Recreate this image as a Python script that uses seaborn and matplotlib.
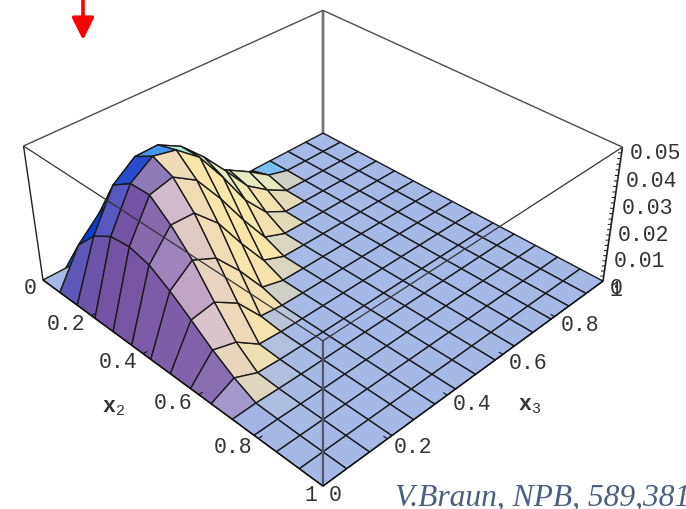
import numpy as np
import matplotlib
matplotlib.use('Agg')
import matplotlib.pyplot as plt
from mpl_toolkits.mplot3d.art3d import Line3DCollection
import seaborn as sns

# grid of the surface, 15 points each way
x2_grid = [0, 1/14, 2/14, 3/14, 4/14, 5/14, 6/14, 7/14, 8/14, 9/14, 10/14, 11/14, 12/14, 13/14, 1]
x3_grid = [0, 1/14, 2/14, 3/14, 4/14, 5/14, 6/14, 7/14, 8/14, 9/14, 10/14, 11/14, 12/14, 13/14, 1]

# heights, one row per x2 value, only the non zero start of each row
z_rows = [
    [],
    [0, .0138, .0215, .0260, .0280, .0260, .0220, .0175, .0126, .0078, .0023, .0001],
    [0, .0218, .0362, .0423, .0425, .0380, .0300, .0205, .0105, .0046, .0001],
    [0, .0262, .0410, .0465, .0447, .0380, .0265, .0135, .0043, .0001],
    [0, .0271, .0412, .0433, .0380, .0270, .0145, .0032, .0001],
    [0, .0252, .0350, .0348, .0267, .0145, .0033, .0001],
    [0, .0206, .0270, .0230, .0135, .0023, .0001],
    [0, .0150, .0165, .0111, .0010, .0001],
    [0, .0091, .0067, .0006, .0001],
    [0, .0041, .0005, .0001],
    [0, .0003, .0001],
    [0, .0001],
    [],
    [],
    [],
]

x2_ticks = [0, 0.2, 0.4, 0.6, 0.8, 1]
x3_ticks = [0, 0.2, 0.4, 0.6, 0.8, 1]
z_ticks = [0.01, 0.02, 0.03, 0.04, 0.05]
z_top = 0.05

sns.set_theme(style='white')
plt.rcParams['font.family'] = ['Liberation Mono', 'DejaVu Sans']
plt.rcParams['mathtext.fontset'] = 'custom'
plt.rcParams['mathtext.tt'] = 'Liberation Mono:bold'
plt.rcParams['mathtext.rm'] = 'Liberation Mono'

# camera of the box, fitted to its eight corners in the picture (x2, x3, z -> pixels)
cam = np.array([
    [226.9, 333.1, -21.0 / z_top, 43.0],
    [126.2, -125.1, -143.5 / z_top, 280.0],
    [-1.0, 1.0, -0.7 / z_top, 2.0],
    [-0.1643, 0.1643, -0.065 / z_top, 1.0],
])


def project(x2, x3, z=0):
    p = cam @ np.array([x2, x3, z, 1.0])
    return p[0] / p[3], p[1] / p[3]


def face_colors(Z):
    # colour from the direction and steepness of each cell
    steep = sns.blend_palette(['#d9c2cc', '#e8d2c0', '#f9e6a8', '#e8f2c0', '#bff3d8', '#a0f0e8',
                               '#55c8f5', '#2a9cf5', '#1a6cf0', '#0c48dc', '#0a3dd0', '#4f5ac8',
                               '#7552a3', '#8a6cb0', '#a98fc0', '#c4a9c4', '#d9c2cc'],
                              n_colors=256, as_cmap=True)
    floor = np.array([0.65, 0.725, 0.90])
    n = Z.shape[0] - 1
    colors = np.zeros((n, n, 4))
    for i in range(n):
        for j in range(n):
            gu = (Z[i + 1, j] + Z[i + 1, j + 1] - Z[i, j] - Z[i, j + 1]) / 2 * n / z_top * 0.5
            gv = (Z[i, j + 1] + Z[i + 1, j + 1] - Z[i, j] - Z[i + 1, j]) / 2 * n / z_top * 0.5
            s = np.hypot(gu, gv)
            phi = np.arctan2(-gv, -gu) % (2 * np.pi) / (2 * np.pi)
            mix = 1 - np.exp(-3 * s)
            colors[i, j, :3] = floor + mix * (np.array(steep(phi)[:3]) - floor)
            colors[i, j, 3] = 1
    # the corner cell stays close to the floor colour
    colors[0, 0, :3] = floor
    return colors


def edges(ax, segments, color, lw, zorder):
    lines = Line3DCollection(segments, colors=color, linewidths=lw, zorder=zorder)
    ax.add_collection3d(lines)


def main():
    Z = np.zeros((len(x2_grid), len(x3_grid)))
    for i, row in enumerate(z_rows):
        Z[i, :len(row)] = row
    X, Y = np.meshgrid(x2_grid, x3_grid, indexing='ij')

    fig = plt.figure(figsize=(6.86, 5.09), dpi=100)
    ax = fig.add_axes([0, 0, 1, 1], projection='3d')
    ax.set_axis_off()
    ax.patch.set_alpha(0)
    ax.computed_zorder = False
    ax.get_proj = lambda: cam
    ax.apply_aspect = lambda position=None: None
    ax.viewLim.intervalx = (0, 686)
    ax.viewLim.intervaly = (509, 0)

    # box edges behind the surface
    edge = '#4d4d4d'
    edges(ax, [[(0, 1, 0), (0, 1, z_top)]], '#777777', 2, 1)
    edges(ax, [[(0, 0, 0), (0, 0, z_top)]], '#222222', 1, 1)
    edges(ax, [[(1, 1, 0), (1, 1, z_top)]], '#222222', 1.2, 1)
    edges(ax, [[(0, 0, z_top), (0, 1, z_top)], [(0, 1, z_top), (1, 1, z_top)]], edge, 1, 1)

    ax.plot_surface(X, Y, Z, facecolors=face_colors(Z), rstride=1, cstride=1, shade=False,
                    edgecolor='#1a1a1a', linewidth=1.0, antialiased=True, zorder=2)

    # box edges in front of the surface
    edges(ax, [[(1, 0, 0), (1, 0, z_top)]], '#555566', 1.6, 3)
    edges(ax, [[(1, 0, z_top), (1, 1, z_top)], [(0, 0, z_top), (1, 0, z_top)]], '#333333', 0.9, 3)
    edges(ax, [[(0, 0, 0), (1, 0, 0)], [(1, 0, 0), (1, 1, 0)]], '#111111', 1, 3)

    # tick marks
    edges(ax, [[(t, 0, 0), (t, 0.012, 0)] for t in x2_ticks[1:-1]], '#111111', 0.8, 3)
    edges(ax, [[(1, t, 0), (0.988, t, 0)] for t in x3_ticks[1:-1]], '#111111', 0.8, 3)
    edges(ax, [[(1, 1, t), (0.994, 0.994, t)] for t in np.arange(0.002, z_top, 0.002)], '#111111', 0.7, 3)

    ov = fig.add_axes([0, 0, 1, 1], facecolor='none')
    ov.set_xlim(0, 686)
    ov.set_ylim(509, 0)
    ov.axis('off')

    fs = 15.5
    ink = '#333333'
    for t in x2_ticks:
        px, py = project(t, 0)
        ov.text(px - 6, py + 9, f'{t:g}', ha='right', va='center', fontsize=fs, color=ink)
    for t in x3_ticks:
        px, py = project(1, t)
        ov.text(px + 6, py + 9, f'{t:g}', ha='left', va='center', fontsize=fs, color=ink)
    for t in z_ticks:
        px, py = project(1, 1, t)
        ov.text(px + 7, py + 6, f'{t:g}', ha='left', va='center', fontsize=fs, color=ink)
    px, py = project(1, 1)
    ov.text(px + 7, py + 7, '0', ha='left', va='center', fontsize=fs, color=ink)

    ov.text(113, 407, r'$\mathtt{x}_{\mathrm{2}}$', ha='center', va='center', fontsize=fs, color=ink)
    ov.text(530, 405, r'$\mathtt{x}_{\mathrm{3}}$', ha='center', va='center', fontsize=fs, color=ink)

    ov.text(395, 506, 'V.Braun, NPB, 589,381', family='Liberation Serif', style='italic',
            fontsize=22.7, color='#4a5f7e', ha='left', va='baseline', clip_on=False)

    ov.annotate('', xy=(83, 40), xytext=(83, -3),
                arrowprops=dict(arrowstyle='-|>,head_length=0.9,head_width=0.45', color='#ff0000',
                                lw=2.6, mutation_scale=15, shrinkA=0, shrinkB=0))

    fig.savefig('out.png', dpi=100)


if __name__ == '__main__':
    main()
